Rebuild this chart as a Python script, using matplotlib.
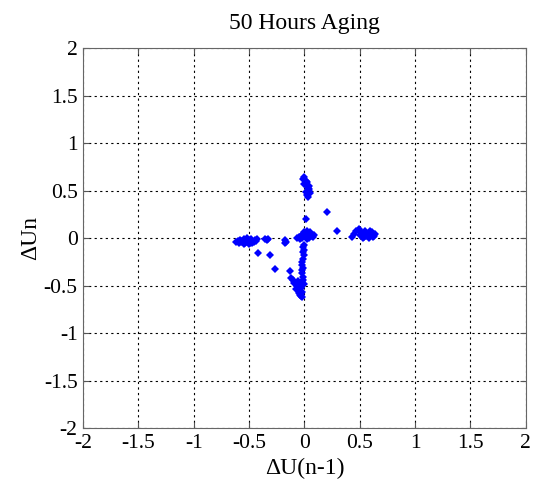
import numpy as np
import matplotlib
matplotlib.use('Agg')
import matplotlib.pyplot as plt

plt.rcParams['font.family'] = ['Liberation Serif', 'DejaVu Serif']

# dU(n-1) and dU(n)
du_prev = [
    # left cluster
    -0.62, -0.60, -0.59, -0.58, -0.57, -0.56, -0.55, -0.54, -0.53, -0.52, -0.51, -0.50,
    -0.49, -0.48, -0.47, -0.46, -0.45, -0.44, -0.43, -0.55, -0.50, -0.47, -0.52,
    -0.36, -0.34, -0.33, -0.18, -0.17, -0.18,
    # center cluster
    -0.07, -0.05, -0.04, -0.03, -0.02, -0.01, 0.00, 0.01, 0.02, 0.03, 0.04, 0.05, 0.06,
    0.08, 0.09, 0.02, 0.03, 0.05, 0.01, 0.04,
    # stem going down
    0.00, -0.01, 0.00, -0.01, 0.00, -0.01, -0.02, -0.02, -0.01, -0.02, -0.02,
    # bottom cluster
    -0.12, -0.10, -0.09, -0.07, -0.06, -0.05, -0.04, -0.03, -0.02, -0.01, 0.00,
    -0.08, -0.05, -0.03, -0.02, -0.04, -0.01, -0.03, -0.06, -0.02,
    # top cluster
    -0.01, 0.00, 0.01, 0.02, 0.03, 0.04, 0.05, 0.00, 0.02, 0.04, 0.01, 0.03, 0.02, 0.04,
    # scattered points
    -0.42, -0.31, -0.27, -0.135, 0.20, 0.29, 0.01,
    # right cluster
    0.43, 0.45, 0.47, 0.49, 0.50, 0.52, 0.54, 0.55, 0.57, 0.58, 0.60, 0.61, 0.63, 0.64,
    0.53, 0.56, 0.59, 0.62, 0.51, 0.58,
]
du_n = [
    -0.04, -0.03, -0.05, -0.02, -0.04, -0.03, -0.01, -0.05, -0.02, -0.04, -0.03, -0.02,
    -0.05, -0.01, -0.03, -0.04, -0.02, -0.03, -0.01, -0.06, -0.06, -0.05, 0.00,
    -0.01, -0.02, -0.01, -0.02, -0.04, -0.05,
    0.00, 0.01, -0.01, 0.02, 0.00, 0.04, 0.06, 0.05, 0.07, 0.03, 0.01, 0.03, 0.02,
    0.01, 0.03, -0.01, 0.05, 0.06, 0.02, 0.00,
    -0.07, -0.09, -0.12, -0.15, -0.18, -0.22, -0.25, -0.28, -0.31, -0.34, -0.37,
    -0.42, -0.44, -0.47, -0.50, -0.45, -0.53, -0.56, -0.59, -0.62, -0.41, -0.48,
    -0.54, -0.58, -0.52, -0.46, -0.60, -0.44, -0.61, -0.49, -0.57,
    0.62, 0.64, 0.60, 0.56, 0.53, 0.50, 0.47, 0.57, 0.45, 0.55, 0.49, 0.43, 0.59, 0.52,
    -0.16, -0.18, -0.32, -0.35, 0.28, 0.08, 0.20,
    0.01, 0.04, 0.08, 0.10, 0.03, 0.05, 0.01, 0.07, 0.02, 0.05, 0.03, 0.06, 0.02, 0.04,
    0.00, 0.02, 0.07, 0.01, 0.06, 0.00,
]

ticks = np.arange(-2, 2.01, 0.5)
ticklabels = ['-2', '-1.5', '-1', '-0.5', '0', '0.5', '1', '1.5', '2']

fig = plt.figure(figsize=(5.36, 4.91), dpi=100)
ax = fig.add_axes([0.155, 0.128, 0.826, 0.774])

ax.plot(du_prev, du_n, 'D', color='#0000ff', markersize=3.8, markeredgewidth=0)

ax.set_xlim(-2, 2)
ax.set_ylim(-2, 2)
ax.set_xticks(ticks)
ax.set_yticks(ticks)
ax.set_xticklabels(ticklabels)
ax.set_yticklabels(ticklabels)
ax.tick_params(direction='in', top=True, right=True, labelsize=15.5, length=4,
               color='#555555', pad=4)
ax.grid(True, color='black', linestyle=(0, (2, 3)), linewidth=0.8)
for s in ax.spines.values():
    s.set_color('#666666')

ax.set_title('50 Hours Aging', fontsize=17, pad=14)
ax.set_xlabel('\u0394U(n-1)', fontsize=17, labelpad=4)
ax.set_ylabel('\u0394Un', fontsize=17, labelpad=2)

fig.savefig('out.png', dpi=100)
